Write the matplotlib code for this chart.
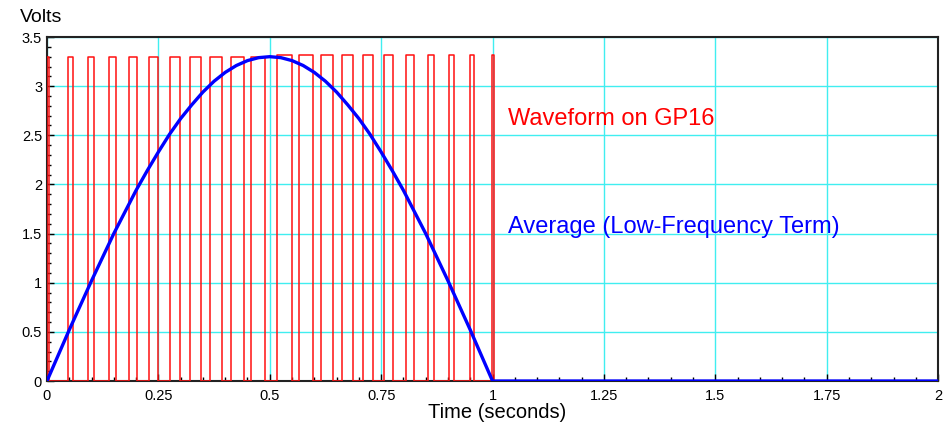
import numpy as np
import matplotlib.pyplot as plt
from matplotlib.ticker import MultipleLocator, FuncFormatter

plt.rcParams['font.family'] = ['Liberation Sans', 'DejaVu Sans']

# PWM pulses on GP16: rising edge, falling edge (seconds), high level (volts)
pulse_start = [0.000, 0.0478, 0.0927, 0.1392, 0.1847, 0.2296, 0.2761, 0.3210,
               0.3659, 0.4123, 0.4572, 0.5169, 0.5657, 0.6144, 0.6615, 0.7086,
               0.7571, 0.8058, 0.8546, 0.9024, 0.9502, 0.9990]
pulse_end = [0.004, 0.0577, 0.1062, 0.1542, 0.2013, 0.2492, 0.2985, 0.3457,
             0.3921, 0.4429, 0.4893, 0.5506, 0.5964, 0.6413, 0.6875, 0.7324,
             0.7773, 0.8238, 0.8694, 0.9143, 0.9592, 1.0030]
pulse_high = [3.30] * 11 + [3.32] * 11

# low-frequency average
avg_t = [0.0, 0.025, 0.05, 0.075, 0.1, 0.125, 0.15, 0.175, 0.2, 0.225,
         0.25, 0.275, 0.3, 0.325, 0.35, 0.375, 0.4, 0.425, 0.45, 0.475,
         0.5, 0.525, 0.55, 0.575, 0.6, 0.625, 0.65, 0.675, 0.7, 0.725,
         0.75, 0.775, 0.8, 0.825, 0.85, 0.875, 0.9, 0.925, 0.95, 0.975,
         1.0, 2.0]
avg_v = [0.0, 0.26, 0.52, 0.77, 1.02, 1.26, 1.50, 1.72, 1.94, 2.14,
         2.33, 2.51, 2.67, 2.81, 2.94, 3.05, 3.14, 3.21, 3.26, 3.29,
         3.30, 3.29, 3.26, 3.21, 3.14, 3.05, 2.94, 2.81, 2.67, 2.51,
         2.33, 2.14, 1.94, 1.72, 1.50, 1.26, 1.02, 0.77, 0.52, 0.26,
         0.0, 0.0]

# build the step trace from the edges
wave_t = [0.0]
wave_v = [0.0]
for s, e, h in zip(pulse_start, pulse_end, pulse_high):
    wave_t += [s, s, e, e]
    wave_v += [0.0, h, h, 0.0]

fig = plt.figure(figsize=(9.45, 4.25), dpi=100)
ax = fig.add_axes([0.0497, 0.1035, 0.943, 0.8094])

ax.plot(wave_t, wave_v, color='#ff1010', lw=1.1, zorder=3)
ax.plot(avg_t, avg_v, color='#0000ff', lw=2.4, zorder=4)

ax.set_xlim(0, 2)
ax.set_ylim(0, 3.5)
ax.xaxis.set_major_locator(MultipleLocator(0.25))
ax.xaxis.set_minor_locator(MultipleLocator(0.05))
ax.yaxis.set_major_locator(MultipleLocator(0.5))
ax.yaxis.set_minor_locator(MultipleLocator(0.1))
fmt = FuncFormatter(lambda v, p: '%g' % v)
ax.xaxis.set_major_formatter(fmt)
ax.yaxis.set_major_formatter(fmt)
ax.tick_params(which='both', direction='in', labelsize=10.5)
ax.tick_params(which='major', length=5, width=1)
ax.tick_params(which='minor', length=3, width=1)
ax.tick_params(axis='x', pad=6)
ax.grid(True, which='major', color='#40eef0', lw=1.0, zorder=0)
ax.set_axisbelow(True)
for sp in ax.spines.values():
    sp.set_linewidth(1.5)
    sp.set_color('#222222')

ax.text(1.035, 2.67, 'Waveform on GP16', color='#ff0000', fontsize=17,
        va='center', ha='left')
ax.text(1.035, 1.57, 'Average (Low-Frequency Term)', color='#0000ff',
        fontsize=17, va='center', ha='left')
fig.text(20 / 945, 1 - 18 / 425, 'Volts', fontsize=14, va='center', ha='left')
fig.text(497 / 945, 1 - 413 / 425, 'Time (seconds)', fontsize=14.5,
         va='center', ha='center')

fig.savefig('out.png', dpi=100)
